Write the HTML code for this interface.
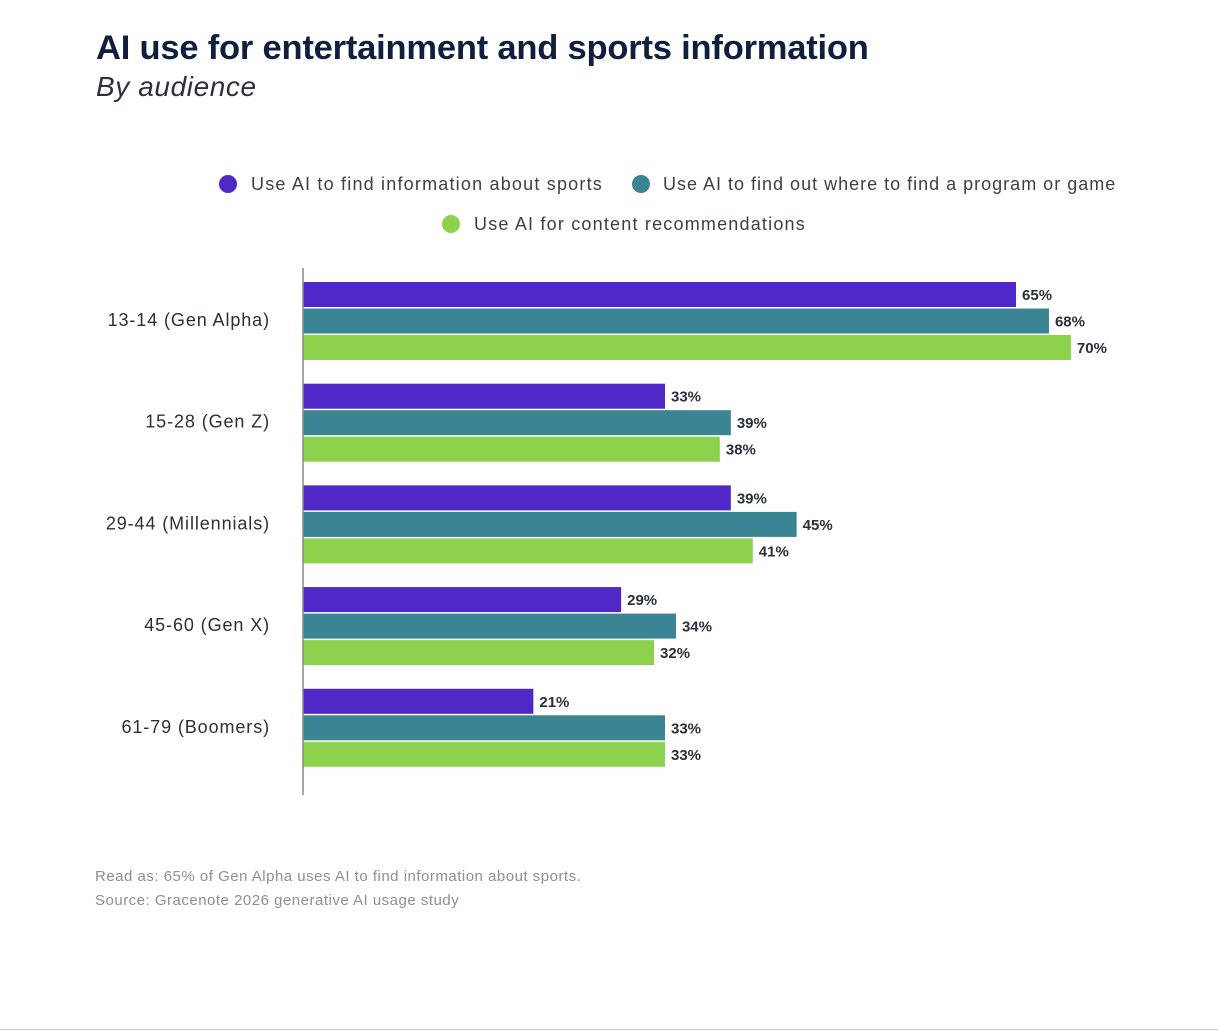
<!DOCTYPE html>
<html><head><meta charset="utf-8"><style>
body{margin:0;background:#fff;width:1218px;height:1032px;overflow:hidden;font-family:"Liberation Sans",sans-serif;position:relative}
.t{position:absolute;white-space:nowrap}
</style></head><body>
<div class="t" style="left:96px;top:29px;font-size:34.5px;font-weight:bold;color:#0f1f3d;letter-spacing:-0.2px">AI use for entertainment and sports information</div>
<div class="t" style="left:96px;top:71px;font-size:28px;font-style:italic;color:#2a3040;letter-spacing:0.6px">By audience</div>
<div class="t" style="left:95px;top:868px;font-size:15px;color:#8a8f98;letter-spacing:0.5px">Read as: 65% of Gen Alpha uses AI to find information about sports.</div>
<div class="t" style="left:95px;top:892px;font-size:15px;color:#8a8f98;letter-spacing:0.5px">Source: Gracenote 2026 generative AI usage study</div>
<div style="position:absolute;left:0;top:1029px;width:1218px;height:1px;background:#ccc"></div>
<svg id="chart" width="1218" height="1032" style="position:absolute;left:0;top:0"></svg>
<script>
const categories=["13-14 (Gen Alpha)","15-28 (Gen Z)","29-44 (Millennials)","45-60 (Gen X)","61-79 (Boomers)"];
const sportsInfo=[65,33,39,29,21];
const findProgram=[68,39,45,34,33];
const recommendations=[70,38,41,32,33];
const seriesNames=["Use AI to find information about sports","Use AI to find out where to find a program or game","Use AI for content recommendations"];
const series=[sportsInfo,findProgram,recommendations];
const colors=["#5128c8","#3a8494","#8cd24c"];
const ns="http://www.w3.org/2000/svg";
const svg=document.getElementById('chart');
const x0=303,pxPer=10.97;
const xScale=v=>x0+v*pxPer;
const groupTop=i=>282+i*101.7;
function mk(tag,attrs){const e=document.createElementNS(ns,tag);for(const k in attrs)e.setAttribute(k,attrs[k]);svg.appendChild(e);return e;}
const legPos=[[228,184,251,1.2],[641,184,663,1.0],[451,224,474,1.2]];
seriesNames.forEach((n,i)=>{
 const c=mk('circle',{cx:legPos[i][0],cy:legPos[i][1],r:9,fill:colors[i]});
 
 
 const t=mk('text',{x:legPos[i][2],y:legPos[i][1]+6,'font-size':18,'letter-spacing':legPos[i][3],fill:'#3a3f4a','font-family':'Liberation Sans, sans-serif'});
 t.textContent=n;
 
 
});
categories.forEach((cat,i)=>{
 const gt=groupTop(i);
 const l=mk('text',{x:270,y:gt+44,'text-anchor':'end','font-size':18,'letter-spacing':0.9,fill:'#2a2f3a','font-family':'Liberation Sans, sans-serif'});
 l.textContent=cat;
 
 
 series.forEach((s,j)=>{
  const y=gt+j*26.5;
  const r=mk('rect',{x:x0,y:y,width:xScale(s[i])-x0,height:25,fill:colors[j]});
  
  
  const v=mk('text',{x:xScale(s[i])+6,y:y+18,'font-size':15,'font-weight':'bold',fill:'#2a2f3a','font-family':'Liberation Sans, sans-serif'});
  v.textContent=s[i]+'%';
  
  
 });
});
const ax=mk('line',{x1:x0,y1:268,x2:x0,y2:795,stroke:'#888','stroke-width':1.5});


</script>
</body></html>
